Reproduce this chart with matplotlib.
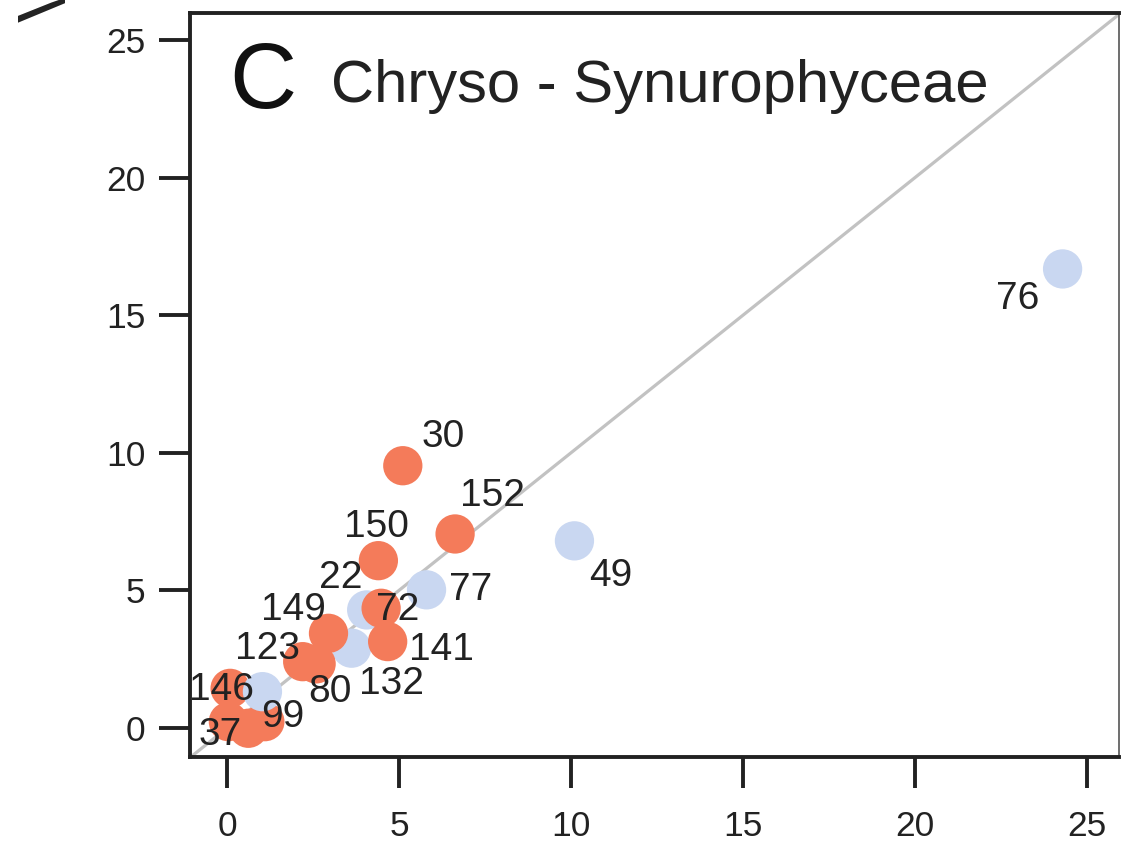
import numpy as np
import matplotlib
matplotlib.use("Agg")
import matplotlib.pyplot as plt

plt.rcParams['font.family'] = ['Liberation Sans', 'DejaVu Sans']

# data
x_vals = [0.09, 0.04, 0.62, 1.10, 1.03, 4.06, 3.62, 5.80, 10.10, 24.29,
          2.20, 2.59, 2.95, 4.48, 4.67, 4.40, 6.63, 5.11]
y_vals = [1.44, 0.23, -0.01, 0.23, 1.32, 4.29, 2.90, 5.02, 6.80, 16.68,
          2.41, 2.33, 3.44, 4.35, 3.14, 6.08, 7.05, 9.53]
group = ['o', 'o', 'o', 'o', 'b', 'b', 'b', 'b', 'b', 'b',
         'o', 'o', 'o', 'o', 'o', 'o', 'o', 'o']
labels = ['146', '37', '', '99', '', '22', '132', '77', '49', '76',
          '123', '80', '149', '72', '141', '150', '152', '30']
# label offsets in points (repel-like placement)
offs = [(-6, -1.5), (-6, -9.5), (0, 0), (13, 3), (0, 0), (-19, 23), (29, -26), (32, 0),
        (26, -25), (-32, -22), (-25, 9), (10, -20), (-25, 17), (12, -1.5), (39, -6),
        (-1.5, 24.5), (27, 27), (29, 21)]

colors = {'o': '#f47b5a', 'b': '#c9d7f1'}
ink = '#222222'

fig = plt.figure(figsize=(11.21, 8.47), dpi=100)
ax = fig.add_axes([190 / 1121, 90 / 847, 929 / 1121, 744 / 847])

ax.axline((0, 0), slope=1, color='#c2c2c2', lw=2.3, zorder=1)

for xi, yi, g in zip(x_vals, y_vals, group):
    ax.scatter(xi, yi, s=800, color=colors[g], edgecolors='none', zorder=2)

for xi, yi, lab, (dx, dy) in zip(x_vals, y_vals, labels, offs):
    if lab:
        ax.annotate(lab, (xi, yi), xytext=(dx, dy), textcoords='offset points',
                    ha='center', va='center', fontsize=28, color=ink, zorder=3)

ax.set_xlim(-1.076, 25.93)
ax.set_ylim(-1.054, 25.98)
ax.set_xticks([0, 5, 10, 15, 20, 25])
ax.set_yticks([0, 5, 10, 15, 20, 25])
ax.tick_params(axis='both', direction='out', length=22, width=2.8, colors=ink,
               labelsize=25.5)
ax.tick_params(axis='x', pad=16)
ax.tick_params(axis='y', pad=10)
for side in ['left', 'bottom', 'top']:
    ax.spines[side].set_linewidth(2.8)
    ax.spines[side].set_color(ink)
ax.spines['right'].set_linewidth(1.2)
ax.spines['right'].set_color('#555555')

fig.text(229 / 1121, (847 - 108) / 847, 'C', fontsize=67, color='#111111',
         ha='left', va='baseline')
fig.text(331 / 1121, (847 - 102) / 847, 'Chryso - Synurophyceae', fontsize=43,
         color=ink, ha='left', va='baseline')
# clipped y-axis label fragment at top left
fig.text(48 / 1121, 1 + 1 / 847, 'V', rotation=90, fontsize=50, color=ink,
         ha='center', va='center')

fig.savefig('out.png', dpi=100)
